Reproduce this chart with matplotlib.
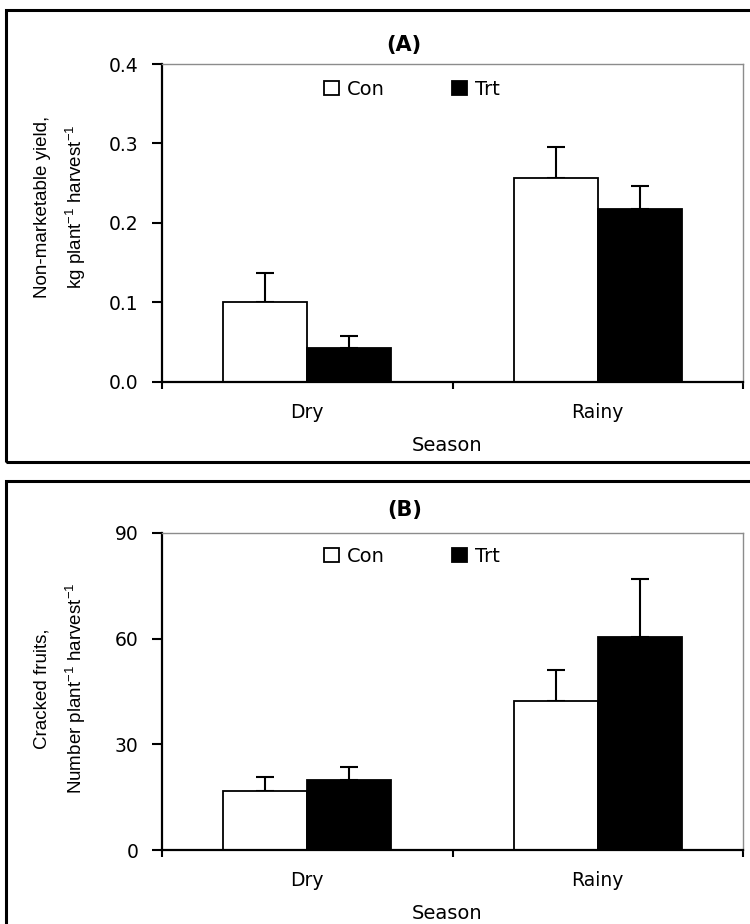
import numpy as np
import matplotlib
matplotlib.use('Agg')
import matplotlib.pyplot as plt
from matplotlib.patches import Rectangle

plt.rcParams['font.family'] = ['DejaVu Sans']
plt.rcParams['mathtext.default'] = 'regular'

# data
seasons = ['Dry', 'Rainy']
groups = ['Con', 'Trt']

yield_con = [0.100, 0.257]
yield_con_se = [0.037, 0.038]
yield_trt = [0.042, 0.218]
yield_trt_se = [0.016, 0.028]

crack_con = [16.8, 42.3]
crack_con_se = [3.8, 8.8]
crack_trt = [19.9, 60.5]
crack_trt_se = [3.8, 16.5]

W, H = 750, 924
fig = plt.figure(figsize=(W / 100, H / 100), dpi=100)

# panel frames
fig.add_artist(Rectangle((6 / W, 1 - 462 / H), 1.0, (462 - 10) / H,
                         transform=fig.transFigure, fill=False, lw=2.2, ec='black'))
fig.add_artist(Rectangle((6 / W, -0.05), 1.0, 0.05 + (924 - 481) / H,
                         transform=fig.transFigure, fill=False, lw=2.2, ec='black'))

narrow = ['Liberation Sans Narrow', 'Liberation Sans', 'DejaVu Sans']


def panel(ax, con, con_se, trt, trt_se, ymax, yticks, fmt, title, ylabel, leg_y, title_y, ylab_y):
    x = np.arange(len(seasons))
    w = 0.29
    b1 = ax.bar(x - w / 2, con, w, color='white', edgecolor='black', linewidth=1.3, label=groups[0], zorder=2)
    b2 = ax.bar(x + w / 2, trt, w, color='black', edgecolor='black', linewidth=1.3, label=groups[1], zorder=2)
    z = np.zeros(len(x))
    ax.errorbar(x - w / 2, con, yerr=[z, con_se], fmt='none', ecolor='black',
                elinewidth=1.5, capsize=6.8, capthick=1.5, zorder=1)
    ax.errorbar(x + w / 2, trt, yerr=[z, trt_se], fmt='none', ecolor='black',
                elinewidth=1.5, capsize=6.8, capthick=1.5, zorder=1)

    ax.set_xlim(-0.5, 1.5)
    ax.set_ylim(0, ymax)
    ax.set_yticks(yticks)
    ax.set_yticklabels([fmt % v for v in yticks])
    ax.set_xticks(x)
    ax.set_xticklabels(seasons)
    ax.set_xticks([-0.5, 0.5, 1.5], minor=True)

    for s in ['top', 'right']:
        ax.spines[s].set_color('#8c8c8c')
        ax.spines[s].set_linewidth(1.0)
    for s in ['left', 'bottom']:
        ax.spines[s].set_color('black')
        ax.spines[s].set_linewidth(1.6)

    ax.tick_params(axis='y', direction='out', length=7, width=1.5, pad=10, labelsize=13.5)
    ax.tick_params(axis='x', which='major', length=0, pad=15, labelsize=13.5)
    ax.tick_params(axis='x', which='minor', direction='out', length=5, width=1.5)

    ax.set_xlabel('Season', fontsize=14)
    ax.xaxis.set_label_coords(0.49, -0.17)
    ax.xaxis.label.set_va('top')

    ax.set_ylabel(ylabel, fontsize=13.5, family=narrow, linespacing=1.75)
    ax.yaxis.set_label_coords(-0.127, ylab_y)

    ax.text(0.417, title_y, title, transform=ax.transAxes, ha='center', va='center',
            fontsize=15, fontweight='bold')

    ax.legend(handles=[b1, b2], ncol=2, frameon=False, loc='center',
              bbox_to_anchor=(0.43, leg_y), fontsize=14, handlelength=0.75,
              handleheight=0.75, handletextpad=0.4, columnspacing=3.5)


axA = fig.add_axes([162 / W, 1 - 381.7 / H, 581 / W, 317.7 / H])
panel(axA, yield_con, yield_con_se, yield_trt, yield_trt_se, 0.4,
      [0.0, 0.1, 0.2, 0.3, 0.4], '%.1f', '(A)',
      'Non-marketable yield,\nkg plant$^{-1}$ harvest$^{-1}$', 0.921, 1.06, 0.55)

axB = fig.add_axes([162 / W, 1 - 850 / H, 581 / W, 317 / H])
panel(axB, crack_con, crack_con_se, crack_trt, crack_trt_se, 90,
      [0, 30, 60, 90], '%d', '(B)',
      'Cracked fruits,\nNumber plant$^{-1}$ harvest$^{-1}$', 0.927, 1.072, 0.51)

fig.savefig('out.png', dpi=100)
